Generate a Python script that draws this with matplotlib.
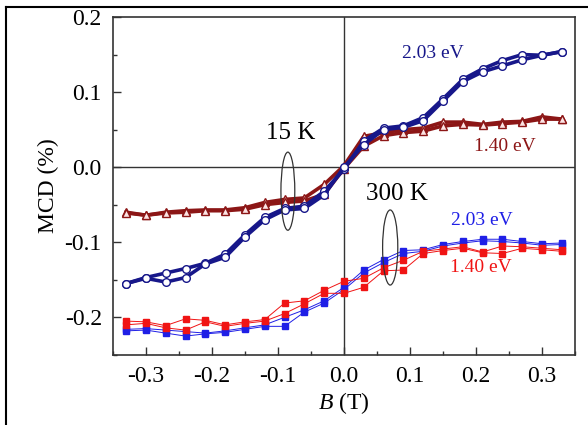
import numpy as np
import matplotlib.pyplot as plt
from matplotlib.patches import Ellipse

plt.rcParams['font.family'] = ['Liberation Serif', 'DejaVu Serif']
plt.rcParams['mathtext.fontset'] = 'custom'
plt.rcParams['mathtext.it'] = 'Liberation Serif:italic'
plt.rcParams['mathtext.rm'] = 'Liberation Serif'

# magnetic field sweep (T)
B = [-0.33, -0.30, -0.27, -0.24, -0.21, -0.18, -0.15, -0.12, -0.09, -0.06, -0.03, 0.00,
     0.03, 0.06, 0.09, 0.12, 0.15, 0.18, 0.21, 0.24, 0.27, 0.30, 0.33]

# 15 K, 2.03 eV (up / down sweep)
mcd_15K_203_up = [-0.155, -0.147, -0.141, -0.135, -0.128, -0.116, -0.090, -0.067, -0.055, -0.052, -0.032, -0.003,
                  0.035, 0.052, 0.055, 0.066, 0.091, 0.117, 0.131, 0.142, 0.150, 0.149, 0.154]
mcd_15K_203_dn = [-0.155, -0.148, -0.153, -0.147, -0.129, -0.120, -0.093, -0.070, -0.057, -0.055, -0.037, 0.000,
                  0.030, 0.050, 0.053, 0.062, 0.088, 0.114, 0.127, 0.135, 0.143, 0.149, 0.154]
# 15 K, 1.40 eV
mcd_15K_140_up = [-0.060, -0.064, -0.060, -0.058, -0.057, -0.057, -0.054, -0.047, -0.043, -0.041, -0.023, 0.002,
                  0.041, 0.046, 0.050, 0.052, 0.060, 0.060, 0.057, 0.060, 0.061, 0.067, 0.064]
mcd_15K_140_dn = [-0.061, -0.064, -0.061, -0.060, -0.058, -0.058, -0.056, -0.050, -0.047, -0.045, -0.036, -0.002,
                  0.028, 0.042, 0.046, 0.048, 0.055, 0.057, 0.056, 0.058, 0.060, 0.064, 0.064]
# 300 K, 2.03 eV
mcd_300K_203_up = [-0.216, -0.215, -0.217, -0.219, -0.221, -0.218, -0.214, -0.210, -0.200, -0.190, -0.178, -0.160,
                   -0.137, -0.123, -0.111, -0.110, -0.103, -0.099, -0.096, -0.096, -0.099, -0.102, -0.101]
mcd_300K_203_dn = [-0.218, -0.217, -0.221, -0.225, -0.222, -0.220, -0.216, -0.212, -0.212, -0.193, -0.181, -0.163,
                   -0.141, -0.127, -0.115, -0.112, -0.105, -0.101, -0.098, -0.099, -0.101, -0.104, -0.103]
# 300 K, 1.40 eV
mcd_300K_140_up = [-0.205, -0.206, -0.211, -0.202, -0.204, -0.210, -0.206, -0.203, -0.181, -0.178, -0.164, -0.152,
                   -0.148, -0.134, -0.124, -0.112, -0.109, -0.106, -0.113, -0.105, -0.106, -0.108, -0.110]
mcd_300K_140_dn = [-0.210, -0.208, -0.214, -0.217, -0.206, -0.212, -0.208, -0.205, -0.195, -0.182, -0.168, -0.168,
                   -0.160, -0.138, -0.137, -0.115, -0.111, -0.108, -0.114, -0.115, -0.108, -0.110, -0.112]

navy = '#17178a'
darkred = '#8c1616'
blue = '#1f1fe6'
red = '#f01414'

fig = plt.figure(figsize=(5.88, 4.25), dpi=100)
ax = fig.add_axes([0.192, 0.165, 0.786, 0.795])

ax.axhline(0, color='#333333', lw=1.0, zorder=1)
ax.axvline(0, color='#333333', lw=1.0, zorder=1)

# 300 K: thin lines, filled squares
for y in (mcd_300K_203_up, mcd_300K_203_dn):
    ax.plot(B, y, '-', color=blue, lw=0.7, marker='s', ms=5, mfc=blue, mec=blue, zorder=2)
for y in (mcd_300K_140_up, mcd_300K_140_dn):
    ax.plot(B, y, '-', color=red, lw=0.7, marker='s', ms=5, mfc=red, mec=red, zorder=3)

# 15 K: thick lines, open markers
for y in (mcd_15K_140_up, mcd_15K_140_dn):
    ax.plot(B, y, '-', color=darkred, lw=2.6, marker='^', ms=6, mfc='#fbe3e3', mec=darkred, mew=1.0, zorder=4)
for y in (mcd_15K_203_up, mcd_15K_203_dn):
    ax.plot(B, y, '-', color=navy, lw=2.6, marker='o', ms=5.5, mfc='white', mec=navy, mew=1.0, zorder=5)

ax.add_patch(Ellipse((-0.085, -0.032), 0.021, 0.104, fill=False, ec='#333333', lw=0.9, zorder=6))
ax.add_patch(Ellipse((0.070, -0.107), 0.023, 0.100, fill=False, ec='#333333', lw=0.9, zorder=6))

ax.text(-0.080, 0.046, '15 K', fontsize=18, ha='center', va='center')
ax.text(0.080, -0.036, '300 K', fontsize=18, ha='center', va='center')
ax.text(0.134, 0.152, '2.03 eV', fontsize=14, color=navy, ha='center', va='center')
ax.text(0.243, 0.028, '1.40 eV', fontsize=14, color=darkred, ha='center', va='center')
ax.text(0.209, -0.071, '2.03 eV', fontsize=14, color=blue, ha='center', va='center')
ax.text(0.208, -0.133, '1.40 eV', fontsize=14, color=red, ha='center', va='center')

ax.set_xlim(-0.35, 0.35)
ax.set_ylim(-0.25, 0.2)
ax.set_xticks([-0.3, -0.2, -0.1, 0.0, 0.1, 0.2, 0.3])
ax.set_xticks(np.arange(-0.35, 0.36, 0.05), minor=True)
ax.set_yticks([-0.2, -0.1, 0.0, 0.1, 0.2])
ax.set_yticks([-0.25, -0.15, -0.05, 0.05, 0.15], minor=True)
ax.xaxis.set_major_formatter(plt.FormatStrFormatter('%.1f'))
ax.yaxis.set_major_formatter(plt.FormatStrFormatter('%.1f'))
ax.tick_params(which='both', direction='in', top=False, right=False, labelsize=17, color='#333333')
ax.tick_params(which='major', length=6, width=1.0, pad=8)
ax.tick_params(which='minor', length=3, width=1.0)
for s in ax.spines.values():
    s.set_color('#333333')
    s.set_linewidth(1.2)

ax.set_xlabel('$B$ (T)', fontsize=17, labelpad=2)
ax.set_ylabel('MCD (%)', fontsize=17, labelpad=4)

# page border lines
fig.add_artist(plt.Line2D([0.010, 1.0], [0.984, 0.984], color='black', lw=1.5, transform=fig.transFigure))
fig.add_artist(plt.Line2D([0.011, 0.011], [0.0, 0.984], color='black', lw=1.5, transform=fig.transFigure))

fig.savefig('out.png', dpi=100)
